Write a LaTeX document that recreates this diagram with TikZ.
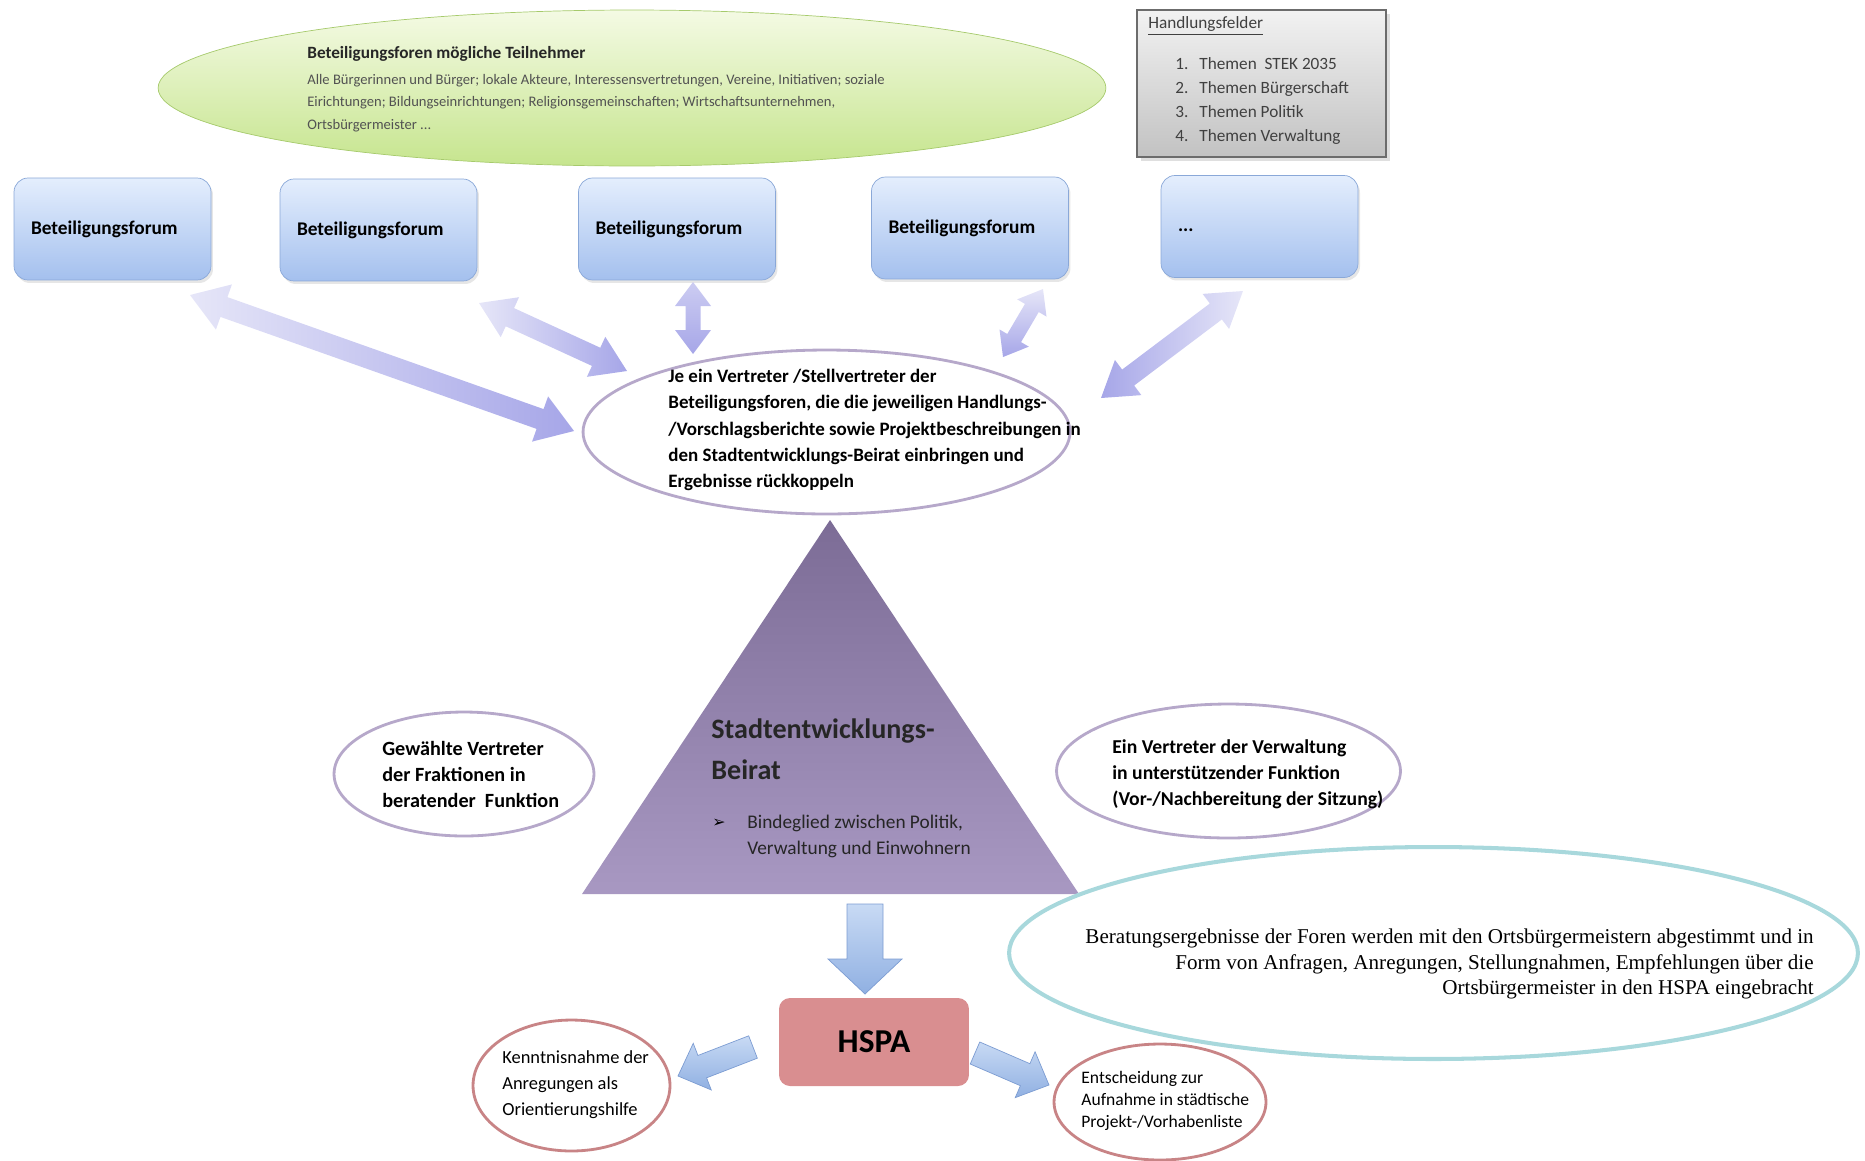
\documentclass[tikz,border=0pt]{standalone}
\usepackage{fontspec}
\setmainfont{Carlito}
\newfontfamily\timesface{Liberation Serif}
\newfontfamily\symbolface{DejaVu Sans}
\usepackage{tikz}
\usetikzlibrary{calc}
\usetikzlibrary{shapes.geometric}
\usetikzlibrary{shadows}
\definecolor{greentop}{HTML}{F4FAE4}
\definecolor{greenbottom}{HTML}{C6E58E}
\definecolor{greenline}{HTML}{A6CA6C}
\definecolor{feldertop}{HTML}{F2F2F2}
\definecolor{felderbottom}{HTML}{C2C2C2}
\definecolor{felderline}{HTML}{6C6C6C}
\definecolor{forumtop}{HTML}{E4EEFD}
\definecolor{forumbottom}{HTML}{A4C0EE}
\definecolor{forumline}{HTML}{8AA8D8}
\definecolor{lilacline}{HTML}{B6A8CA}
\definecolor{lilaclight}{HTML}{E6E6F8}
\definecolor{lilacdark}{HTML}{A6A6E8}
\definecolor{beirattop}{HTML}{7C6C96}
\definecolor{beiratbottom}{HTML}{A898C2}
\definecolor{tealline}{HTML}{A8D8DC}
\definecolor{roseline}{HTML}{C88486}
\definecolor{hspafill}{HTML}{D98E90}
\definecolor{bluelight}{HTML}{C8DAF4}
\definecolor{bluedark}{HTML}{90B0E2}
\definecolor{blueline}{HTML}{7C9CD2}
\tikzset{
    tnote/.style = {inner sep=0pt, align=left, anchor=west},
    green_oval/.style = {ellipse, draw=greenline, thin, top color=greentop, bottom color=greenbottom, minimum width=18.96cm, minimum height=3.12cm, inner sep=0pt},
    felder_box/.style = {rectangle, draw=felderline, line width=1.2pt, top color=feldertop, bottom color=felderbottom, minimum width=4.98cm, minimum height=2.94cm, drop shadow={opacity=0.25}},
    forum_box/.style = {rectangle, rounded corners=0.28cm, draw=forumline, thin, top color=forumtop, bottom color=forumbottom, minimum height=2.04cm, text width=3.26cm, inner xsep=0.34cm, align=left, font=\fontsize{11}{13}\selectfont\bfseries, execute at begin node={\vphantom{Bg}}, drop shadow={opacity=0.2, shadow xshift=0.04cm, shadow yshift=-0.06cm}},
    lilac_oval/.style = {ellipse, draw=lilacline, line width=1.6pt, fill=white, inner sep=0pt},
    teal_oval/.style = {ellipse, draw=tealline, line width=2.3pt, inner sep=0pt},
    rose_oval/.style = {ellipse, draw=roseline, line width=1.6pt, fill=white, inner sep=0pt},
    hspa_box/.style = {rectangle, rounded corners=0.22cm, fill=hspafill, minimum width=3.8cm, minimum height=1.76cm, font=\fontsize{19}{22}\selectfont\bfseries},
    lilac_arrow/.style = {left color=lilaclight, right color=lilacdark},
    blue_arrow/.style = {draw=blueline, thin, top color=bluelight, bottom color=bluedark}
}
% #1 style, #2 start, #3 end, #4 half shaft, #5 half head, #6 head length
\newcommand\dblarrow[6]{%
    \shade[#1] (#2) -- ($(#2)!#6!(#3)!#5!90:(#3)$) -- ($(#2)!#6!(#3)!#4!90:(#3)$)
        -- ($(#3)!#6!(#2)!#4!-90:(#2)$) -- ($(#3)!#6!(#2)!#5!-90:(#2)$) -- (#3)
        -- ($(#3)!#6!(#2)!#5!90:(#2)$) -- ($(#3)!#6!(#2)!#4!90:(#2)$)
        -- ($(#2)!#6!(#3)!#4!-90:(#3)$) -- ($(#2)!#6!(#3)!#5!-90:(#3)$) -- cycle;}
\newcommand\blockarrow[6]{%
    \shade[#1] ($(#2)!#4!90:(#3)$) -- ($(#3)!#6!(#2)!#4!-90:(#2)$) -- ($(#3)!#6!(#2)!#5!-90:(#2)$)
        -- (#3) -- ($(#3)!#6!(#2)!#5!90:(#2)$) -- ($(#3)!#6!(#2)!#4!90:(#2)$)
        -- ($(#2)!#4!-90:(#3)$) -- cycle;}

\begin{document}
\begin{tikzpicture}[x=0.02cm, y=-0.02cm]
\useasboundingbox (0,0) rectangle (1865,1160);

\node[green_oval] (teilnehmer) at (632,88) {};
\node[tnote, font=\fontsize{9.8}{12}\selectfont\bfseries, text=black!85] (teilnehmer_title) at (307,54) {Beteiligungsforen mögliche Teilnehmer};
\node[tnote, font=\fontsize{8.3}{12.8}\selectfont, text=black!68] (teilnehmer_list) at (307,103) {Alle Bürgerinnen und Bürger; lokale Akteure, Interessensvertretungen, Vereine, Initiativen; soziale\\Eirichtungen; Bildungseinrichtungen; Religionsgemeinschaften; Wirtschaftsunternehmen,\\Ortsbürgermeister ...};

\node[felder_box] (felder) at (1261.5,83.5) {};
\node[tnote, font=\fontsize{9.8}{12}\selectfont, text=black!75] (felder_title) at (1148,26) {\underline{Handlungsfelder}};
\node[tnote, font=\fontsize{9.8}{13.8}\selectfont, text=black!75] (felder_list) at (1175,101) {\makebox[13.7pt][l]{1.}Themen\ \ STEK 2035\\\makebox[13.7pt][l]{2.}Themen Bürgerschaft\\\makebox[13.7pt][l]{3.}Themen Politik\\\makebox[13.7pt][l]{4.}Themen Verwaltung};

\node[forum_box] (forum_a) at (112.5,229) {Beteiligungsforum};
\node[forum_box] (forum_b) at (378.5,230) {Beteiligungsforum};
\node[forum_box] (forum_c) at (677,229) {Beteiligungsforum};
\node[forum_box] (forum_d) at (970,228) {Beteiligungsforum};
\node[forum_box] (forum_e) at (1259.5,226.5) {...};

\node[lilac_oval, minimum width=9.74cm, minimum height=3.28cm] (vertreter) at (826.5,432) {};
\node[tnote, font=\fontsize{10.8}{14.9}\selectfont\bfseries] (vertreter_text) at (668,430) {Je ein Vertreter /Stellvertreter der\\Beteiligungsforen, die die jeweiligen Handlungs-\\/Vorschlagsberichte sowie Projektbeschreibungen in\\den Stadtentwicklungs-Beirat einbringen und\\Ergebnisse rückkoppeln};

\coordinate (link_a1) at (190,295);
\coordinate (link_a2) at (574,431);
\coordinate (link_b1) at (479,303);
\coordinate (link_b2) at (627,371);
\coordinate (link_c1) at (693,282);
\coordinate (link_c2) at (693,354);
\coordinate (link_d1) at (1043,289);
\coordinate (link_d2) at (1003,357);
\coordinate (link_e1) at (1243,291);
\coordinate (link_e2) at (1101,398);
\dblarrow{lilac_arrow}{link_a1}{link_a2}{0.21cm}{0.48cm}{0.72cm}
\dblarrow{lilac_arrow}{link_b1}{link_b2}{0.2cm}{0.44cm}{0.68cm}
\dblarrow{top color=lilaclight!60!lilacdark, bottom color=lilacdark}{link_c1}{link_c2}{0.15cm}{0.36cm}{0.48cm}
\dblarrow{top color=lilaclight, bottom color=lilacdark}{link_d1}{link_d2}{0.16cm}{0.34cm}{0.44cm}
\dblarrow{left color=lilacdark, right color=lilaclight}{link_e1}{link_e2}{0.2cm}{0.44cm}{0.68cm}

\coordinate (beirat_top) at (830,520);
\coordinate (beirat_left) at (582,894);
\coordinate (beirat_right) at (1079,894);
\shade[top color=beirattop, bottom color=beiratbottom] (beirat_top) -- (beirat_left) -- (beirat_right) -- cycle;
\node[tnote, font=\fontsize{16}{23.3}\selectfont\bfseries, text=black!85] (beirat_title) at (711,749.5) {Stadtentwicklungs-\\Beirat};
\node[tnote, font=\symbolface\fontsize{9}{11}\selectfont] (beirat_bullet) at (712,823) {➢};
\node[tnote, font=\fontsize{11}{14.8}\selectfont, text=black!85] (beirat_text) at (747,836) {Bindeglied zwischen Politik,\\Verwaltung und Einwohnern};

\node[lilac_oval, minimum width=5.2cm, minimum height=2.48cm] (fraktionen) at (464,774) {};
\node[tnote, font=\fontsize{11.5}{14.8}\selectfont\bfseries] (fraktionen_text) at (382,774) {Gewählte Vertreter\\der Fraktionen in\\beratender\ \ Funktion};
\node[lilac_oval, minimum width=6.88cm, minimum height=2.68cm] (verwaltung) at (1228.5,771) {};
\node[tnote, font=\fontsize{11.2}{14.8}\selectfont\bfseries] (verwaltung_text) at (1112,774) {Ein Vertreter der Verwaltung\\in unterstützender Funktion\\(Vor-/Nachbereitung der Sitzung)};

\node[teal_oval, minimum width=16.98cm, minimum height=4.24cm] (ortsbuerger) at (1433.5,953) {};
\node[inner sep=0pt, align=right, anchor=east, font=\timesface\fontsize{12}{14.5}\selectfont] (ortsbuerger_text) at (1814,964) {Beratungsergebnisse der Foren werden mit den Ortsbürgermeistern abgestimmt und in\\Form von Anfragen, Anregungen, Stellungnahmen, Empfehlungen über die\\Ortsbürgermeister in den HSPA eingebracht};

\node[hspa_box] (hspa) at (874,1042) {HSPA};
\node[rose_oval, minimum width=3.94cm, minimum height=2.62cm] (kenntnis) at (571.5,1085.5) {};
\node[tnote, font=\fontsize{10.5}{14.8}\selectfont] (kenntnis_text) at (502,1085) {Kenntnisnahme der\\Anregungen als\\Orientierungshilfe};
\node[rose_oval, minimum width=4.24cm, minimum height=2.32cm] (entscheidung) at (1160,1102) {};
\node[tnote, font=\fontsize{10}{12.5}\selectfont] (entscheidung_text) at (1081,1101) {Entscheidung zur\\Aufnahme in städtische\\Projekt-/Vorhabenliste};

\coordinate (flow_a1) at (865,904);
\coordinate (flow_a2) at (865,994);
\coordinate (flow_b1) at (753,1047);
\coordinate (flow_b2) at (678,1076);
\coordinate (flow_c1) at (975,1053);
\coordinate (flow_c2) at (1049,1085);
\blockarrow{blue_arrow}{flow_a1}{flow_a2}{0.36cm}{0.74cm}{0.7cm}
\blockarrow{blue_arrow}{flow_b1}{flow_b2}{0.24cm}{0.5cm}{0.52cm}
\blockarrow{blue_arrow}{flow_c1}{flow_c2}{0.24cm}{0.5cm}{0.52cm}
\end{tikzpicture}
\end{document}
